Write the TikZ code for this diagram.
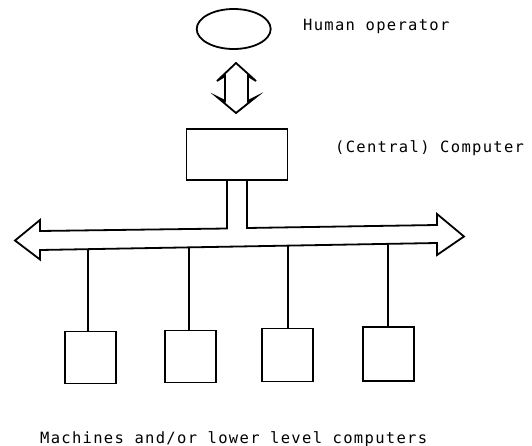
\documentclass[tikz,border=0pt]{standalone}
\usepackage{fontspec}
\newfontfamily\tw[LetterSpace=8.4]{DejaVu Sans Mono}
\usetikzlibrary{shapes.geometric}
\begin{document}
\begin{tikzpicture}[x=1pt,y=-1pt,
  ln/.style={line width=1.8pt, line join=miter},
  box/.style={draw, line width=1.8pt, inner sep=0pt, anchor=north west},
  lbl/.style={inner sep=0pt, anchor=base west, font=\tw\fontsize{15.5}{18}\selectfont}]
\useasboundingbox (0,0) rectangle (532,446);
% human operator
\node[draw, ellipse, line width=1.8pt, minimum width=74pt, minimum height=40pt, inner sep=0pt] (op) at (233.7,29) {};
\node[lbl] (opl) at (303,31) {Human operator};
% double arrow operator <-> computer
\draw[ln] (225,76) -- (217,81) -- (236,63) -- (256,81) -- (248,76) -- (248,101) -- (256,97) -- (236,113) -- (217,97) -- (225,101) -- cycle;
% central computer
\node[box, minimum width=101pt, minimum height=51pt] (cc) at (185.5,128.5) {};
\node[lbl] (ccl) at (335,153) {(Central) Computer};
% bus
\coordinate (cl) at (227,179.5);
\coordinate (cr) at (247,179.5);
\draw[ln] (cl) -- (227,228.5) -- (40,231) -- (40,220) -- (15,240.5) -- (40,259.5) -- (40,250)
  -- (437,243) -- (437,255) -- (464,236.5) -- (437,214) -- (437,225) -- (247,228) -- (cr);
% bus taps
\coordinate (t1) at (88,249.2);
\coordinate (t2) at (189,247.4);
\coordinate (t3) at (288,245.6);
\coordinate (t4) at (388,243.9);
% lower machines
\node[box, minimum width=51pt, minimum height=52pt] (m1) at (64,330.5) {};
\node[box, minimum width=51pt, minimum height=52pt] (m2) at (164,329.5) {};
\node[box, minimum width=51pt, minimum height=53pt] (m3) at (261,327.5) {};
\node[box, minimum width=51pt, minimum height=54pt] (m4) at (362,326) {};
\draw[ln] (t1) -- (t1 |- m1.north);
\draw[ln] (t2) -- (t2 |- m2.north);
\draw[ln] (t3) -- (t3 |- m3.north);
\draw[ln] (t4) -- (t4 |- m4.north);
\node[lbl] (ml) at (40,443) {Machines and/or lower level computers};
\end{tikzpicture}
\end{document}
